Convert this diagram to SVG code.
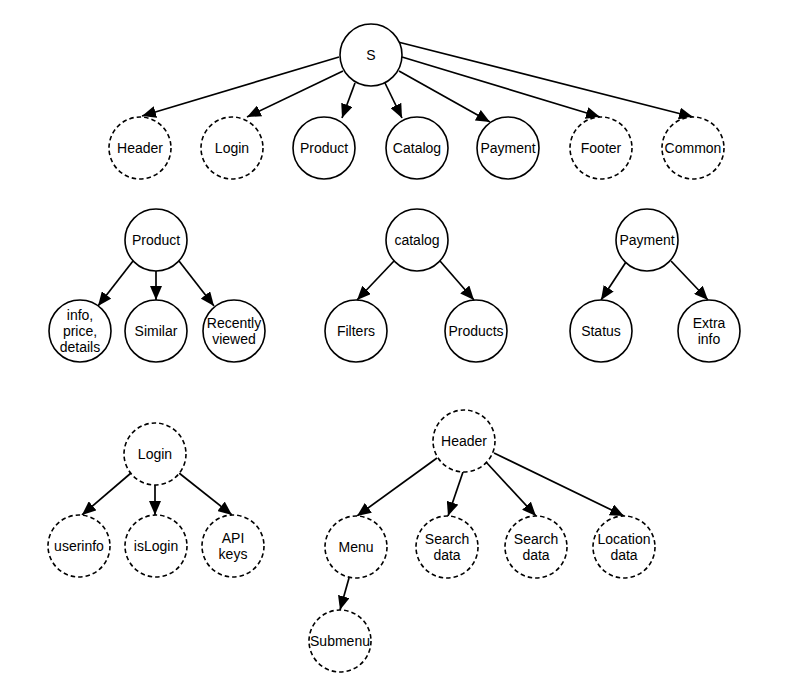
<svg xmlns="http://www.w3.org/2000/svg" width="800" height="699" viewBox="0 0 800 699">
<style>
.n{fill:#fff;stroke:#000;stroke-width:1.6}
.d{stroke-dasharray:4.5 3}
.t{font-family:"Liberation Sans",Arial,sans-serif;font-size:14px;fill:#000;text-anchor:middle;dominant-baseline:central}
.e{stroke:#000;stroke-width:1.7;fill:none;marker-end:url(#a)}
</style>
<defs>
<marker id="a" markerUnits="userSpaceOnUse" markerWidth="14" markerHeight="12" refX="14" refY="6" orient="auto">
<path d="M0,0 L14,6 L0,12 z" fill="#000"/>
</marker>
</defs>
<rect width="800" height="699" fill="#fff"/>
<g id="connectors">
<line class="e" x1="339" y1="57" x2="142" y2="116"/>
<line class="e" x1="343" y1="71" x2="247" y2="117"/>
<line class="e" x1="355" y1="83" x2="342" y2="118"/>
<line class="e" x1="385" y1="83" x2="402" y2="118"/>
<line class="e" x1="399" y1="71" x2="490" y2="122"/>
<line class="e" x1="402" y1="57" x2="600" y2="117"/>
<line class="e" x1="398" y1="42" x2="693" y2="117"/>
<line class="e" x1="133" y1="261" x2="98" y2="306"/>
<line class="e" x1="156" y1="271" x2="156" y2="300"/>
<line class="e" x1="179" y1="261" x2="214" y2="306"/>
<line class="e" x1="394" y1="261" x2="357" y2="300"/>
<line class="e" x1="440" y1="261" x2="474" y2="300"/>
<line class="e" x1="626" y1="262" x2="601" y2="300"/>
<line class="e" x1="671" y1="261" x2="708" y2="300"/>
<line class="e" x1="131" y1="473" x2="82" y2="515"/>
<line class="e" x1="155" y1="485" x2="155" y2="515"/>
<line class="e" x1="179" y1="473" x2="232" y2="515"/>
<line class="e" x1="437" y1="458" x2="357" y2="516"/>
<line class="e" x1="463" y1="472" x2="448" y2="516"/>
<line class="e" x1="486" y1="462" x2="536" y2="516"/>
<line class="e" x1="494" y1="453" x2="624" y2="516"/>
<line class="e" x1="349" y1="578" x2="340" y2="610"/>
</g>
<g id="S"><circle class="n" cx="371" cy="55" r="31"/><text class="t" x="371" y="55">S</text></g>
<g id="Header1"><circle class="n d" cx="140" cy="148" r="31"/><text class="t" x="140" y="148">Header</text></g>
<g id="Login1"><circle class="n d" cx="232" cy="148" r="31"/><text class="t" x="232" y="148">Login</text></g>
<g id="Product1"><circle class="n" cx="324" cy="148" r="31"/><text class="t" x="324" y="148">Product</text></g>
<g id="Catalog1"><circle class="n" cx="417" cy="148" r="31"/><text class="t" x="417" y="148">Catalog</text></g>
<g id="Payment1"><circle class="n" cx="508" cy="148" r="31"/><text class="t" x="508" y="148">Payment</text></g>
<g id="Footer1"><circle class="n d" cx="601" cy="148" r="31"/><text class="t" x="601" y="148">Footer</text></g>
<g id="Common1"><circle class="n d" cx="693" cy="148" r="31"/><text class="t" x="693" y="148">Common</text></g>

<g id="Product2"><circle class="n" cx="156" cy="240" r="31"/><text class="t" x="156" y="240">Product</text></g>
<g id="Info"><circle class="n" cx="80" cy="331" r="31"/><text class="t" x="80" y="315">info,</text><text class="t" x="80" y="331">price,</text><text class="t" x="80" y="347">details</text></g>
<g id="Similar"><circle class="n" cx="156" cy="331" r="31"/><text class="t" x="156" y="331">Similar</text></g>
<g id="Recently"><circle class="n" cx="234" cy="331" r="31"/><text class="t" x="234" y="323">Recently</text><text class="t" x="234" y="339">viewed</text></g>

<g id="catalog2"><circle class="n" cx="417" cy="240" r="31"/><text class="t" x="417" y="240">catalog</text></g>
<g id="Filters"><circle class="n" cx="356" cy="331" r="31"/><text class="t" x="356" y="331">Filters</text></g>
<g id="Products"><circle class="n" cx="476" cy="331" r="31"/><text class="t" x="476" y="331">Products</text></g>

<g id="Payment2"><circle class="n" cx="647" cy="240" r="31"/><text class="t" x="647" y="240">Payment</text></g>
<g id="Status"><circle class="n" cx="601" cy="331" r="31"/><text class="t" x="601" y="331">Status</text></g>
<g id="Extra"><circle class="n" cx="709" cy="331" r="31"/><text class="t" x="709" y="323">Extra</text><text class="t" x="709" y="339">info</text></g>

<g id="Login2"><circle class="n d" cx="155" cy="454" r="31"/><text class="t" x="155" y="454">Login</text></g>
<g id="userinfo"><circle class="n d" cx="79" cy="546" r="31"/><text class="t" x="79" y="546">userinfo</text></g>
<g id="isLogin"><circle class="n d" cx="156" cy="546" r="31"/><text class="t" x="156" y="546">isLogin</text></g>
<g id="APIkeys"><circle class="n d" cx="233" cy="546" r="31"/><text class="t" x="233" y="538">API</text><text class="t" x="233" y="554">keys</text></g>

<g id="Header2"><circle class="n d" cx="464" cy="441" r="31"/><text class="t" x="464" y="441">Header</text></g>
<g id="Menu"><circle class="n d" cx="356" cy="547" r="31"/><text class="t" x="356" y="547">Menu</text></g>
<g id="Search1"><circle class="n d" cx="447" cy="547" r="31"/><text class="t" x="447" y="539">Search</text><text class="t" x="447" y="555">data</text></g>
<g id="Search2"><circle class="n d" cx="536" cy="547" r="31"/><text class="t" x="536" y="539">Search</text><text class="t" x="536" y="555">data</text></g>
<g id="Location"><circle class="n d" cx="624" cy="547" r="31"/><text class="t" x="624" y="539">Location</text><text class="t" x="624" y="555">data</text></g>
<g id="Submenu"><circle class="n d" cx="340" cy="641" r="31"/><text class="t" x="340" y="641">Submenu</text></g>
</svg>
